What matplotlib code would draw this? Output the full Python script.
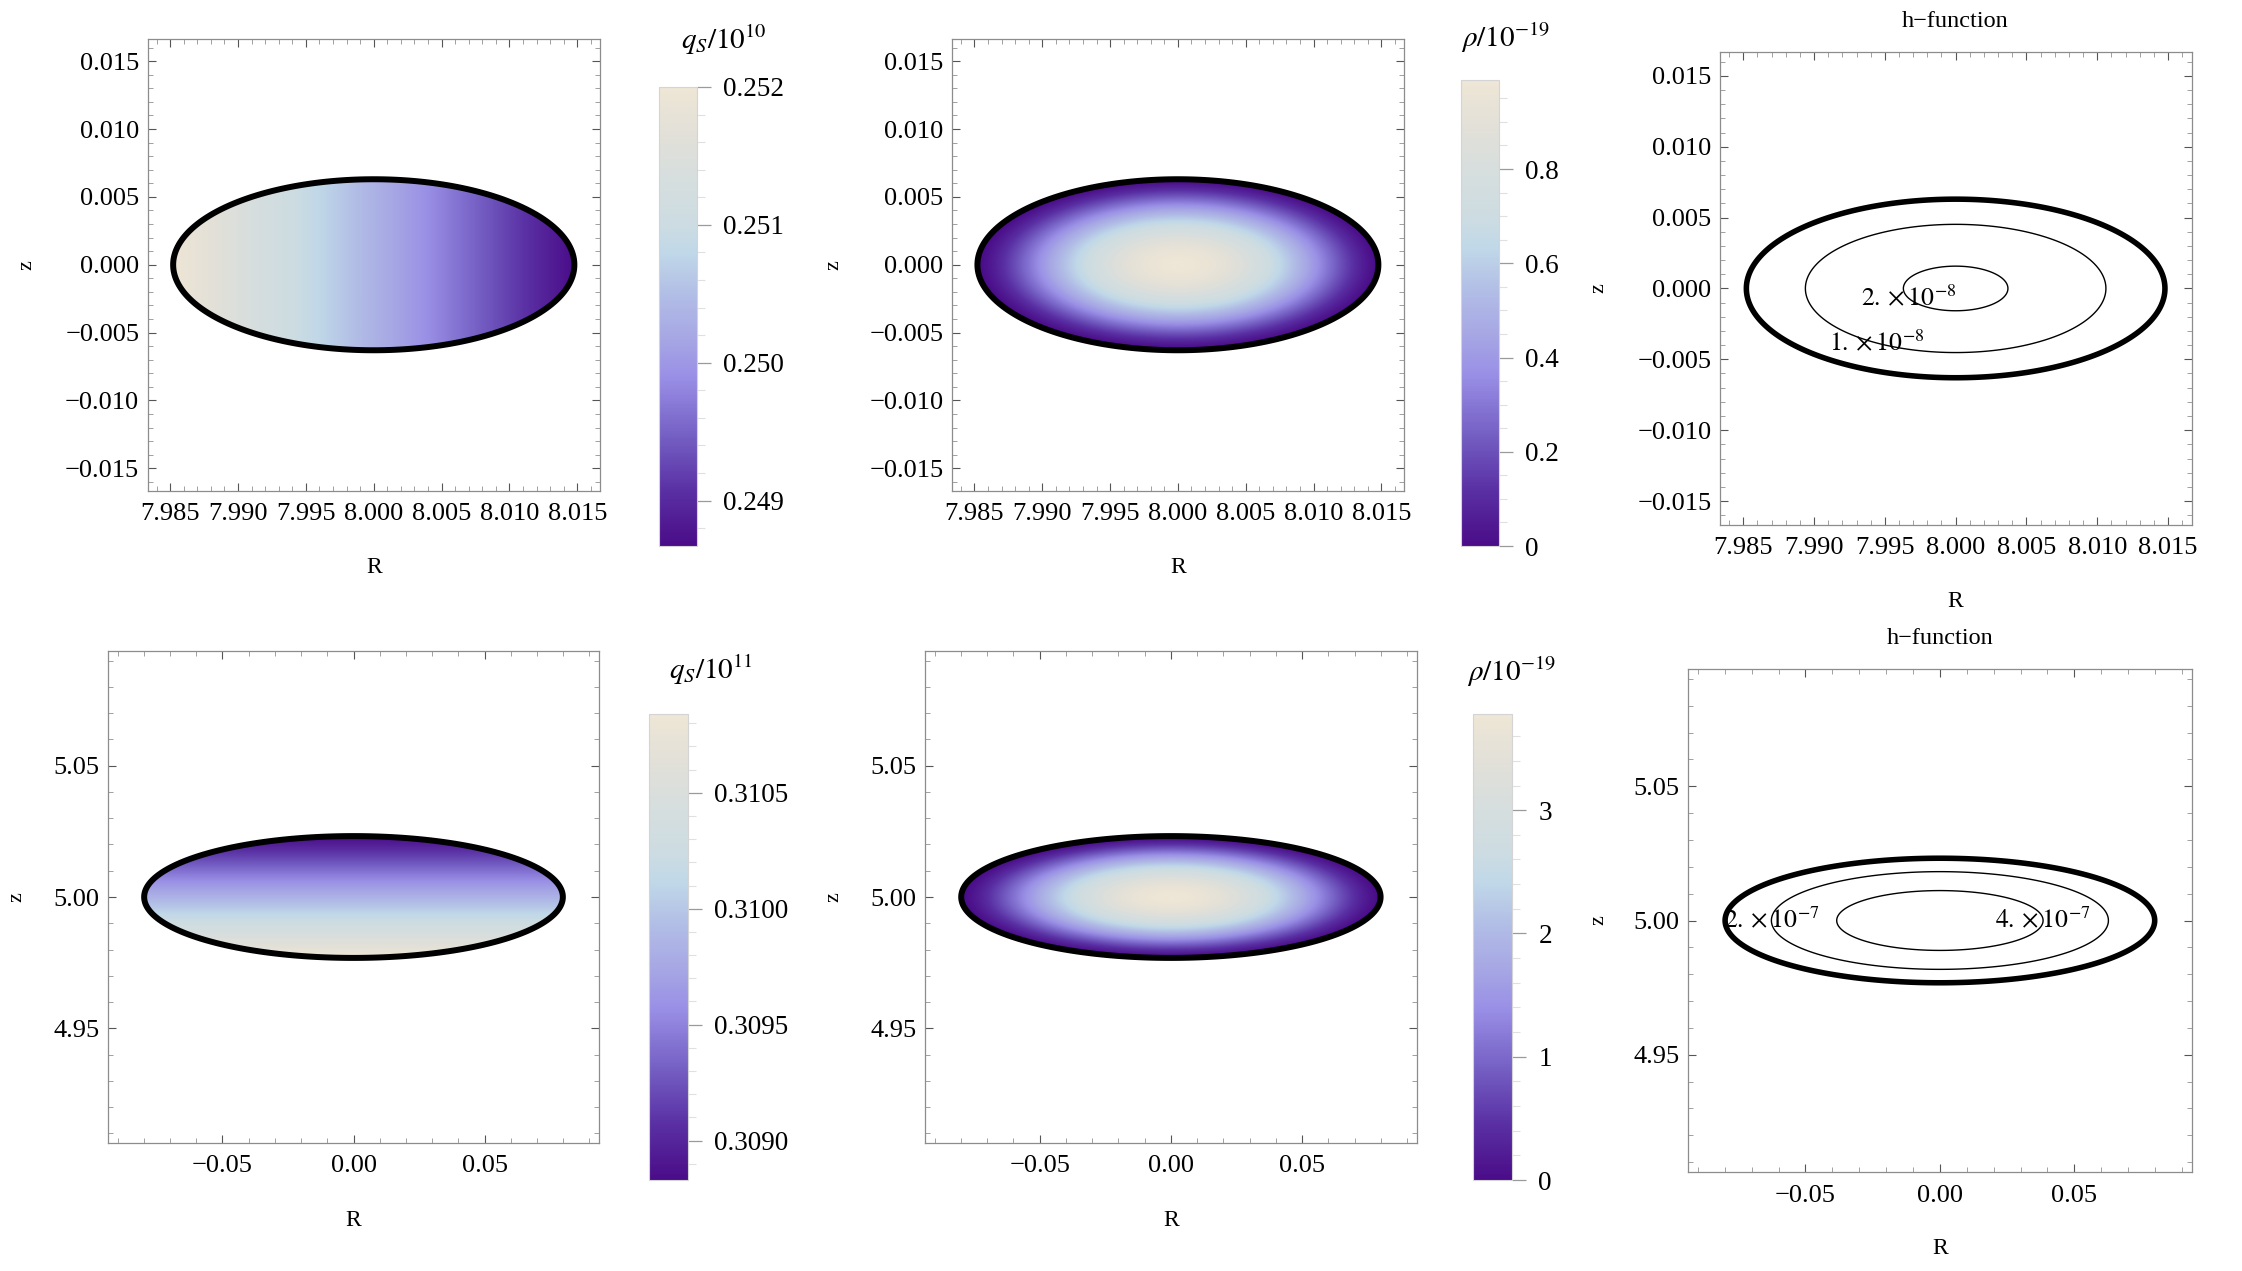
import numpy as np
import matplotlib
matplotlib.use("Agg")
import matplotlib.pyplot as plt
from matplotlib.colors import LinearSegmentedColormap
from matplotlib.ticker import MultipleLocator

plt.rcParams['font.family'] = ['Liberation Serif', 'DejaVu Serif']
plt.rcParams['mathtext.fontset'] = 'stix'

# ---------------- data ----------------
# geometry of the cross-sections
top_center = [8.0, 0.0]            # (R, z)
top_semi_axes = [0.01478, 0.0063]  # (a_R, a_z)
top_half_range = 0.01667
bot_center = [0.0, 5.0]
bot_semi_axes = [0.0799, 0.0232]
bot_half_range = 0.0937

# top row: q_s/1e10 at inner (small R) and outer (large R) edge, rho peak, h-function
qs_top_edges = [0.25200, 0.24867]
rho_top_peak = 0.989
rho_profile_power = 1.5
h_top_peak = 2.14e-8
h_top_power = 1.05
h_top_levels = [1e-8, 2e-8]
h_top_labels = [r'$1.\times10^{-8}$', r'$2.\times10^{-8}$']
h_top_label_pos = [(7.99445, -0.0039), (7.99664, -0.0008)]

# bottom row: q_s/1e11 at lower (small z) and upper edge, rho peak, h-function
qs_bot_edges = [0.31084, 0.30883]
rho_bot_peak = 3.78
h_bot_peak = 5.2e-7
h_bot_power = 1.0
h_bot_levels = [2e-7, 4e-7]
h_bot_labels = [r'$2.\times10^{-7}$', r'$4.\times10^{-7}$']
h_bot_label_pos = [(-0.0625, 5.0), (0.0385, 5.0)]

# tick values / labels
top_xticks = [7.985, 7.990, 7.995, 8.000, 8.005, 8.010, 8.015]
top_xticklabels = ['7.985', '7.990', '7.995', '8.000', '8.005', '8.010', '8.015']
top_yticks = [-0.015, -0.010, -0.005, 0.0, 0.005, 0.010, 0.015]
top_yticklabels = ['\u22120.015', '\u22120.010', '\u22120.005', '0.000', '0.005', '0.010', '0.015']
bot_xticks = [-0.05, 0.0, 0.05]
bot_xticklabels = ['\u22120.05', '0.00', '0.05']
bot_yticks = [4.95, 5.00, 5.05]
bot_yticklabels = ['4.95', '5.00', '5.05']

cb1_ticks = [0.249, 0.250, 0.251, 0.252]
cb1_labels = ['0.249', '0.250', '0.251', '0.252']
cb2_ticks = [0.0, 0.2, 0.4, 0.6, 0.8]
cb2_labels = ['0', '0.2', '0.4', '0.6', '0.8']
cb4_ticks = [0.3090, 0.3095, 0.3100, 0.3105]
cb4_labels = ['0.3090', '0.3095', '0.3100', '0.3105']
cb5_ticks = [0, 1, 2, 3]
cb5_labels = ['0', '1', '2', '3']

cb_titles = [r'$q_S/10^{10}$', r'$\rho/10^{-19}$', r'$q_S/10^{11}$', r'$\rho/10^{-19}$']

# colour scheme nodes (dark purple -> lavender -> light blue -> beige)
cmap_colors = ['#4a0c88', '#5a30a4', '#7058be', '#8676d4', '#9a90e6', '#a6a6e4',
               '#b2bee6', '#c0d8e8', '#ccdce2', '#d6dede', '#e2e0d8', '#eee6d6']
cmap_nodes = [0.0, 0.12, 0.22, 0.30, 0.37, 0.45, 0.55, 0.64, 0.70, 0.80, 0.90, 1.0]

# ---------------- figure ----------------
W, H = 2242, 1271
fig = plt.figure(figsize=(W / 100, H / 100), dpi=100)
cmap = LinearSegmentedColormap.from_list('mm', list(zip(cmap_nodes, cmap_colors)))


def rect(l, r, t, b):
    return [l / W, 1 - b / H, (r - l) / W, (b - t) / H]


FRAME = '#8c8c8c'


def style_axes(ax, xt, xl, yt, yl, minor, ylab_off, xlab_off=77):
    ax.set_xticks(xt, labels=xl)
    ax.set_yticks(yt, labels=yl)
    ax.xaxis.set_minor_locator(MultipleLocator(minor))
    ax.yaxis.set_minor_locator(MultipleLocator(minor))
    ax.tick_params(which='both', direction='in', top=True, right=True)
    ax.tick_params(which='major', length=6, width=0.8, color='#555555',
                   labelsize=19, pad=6)
    ax.tick_params(axis='x', which='major', pad=9)
    ax.tick_params(which='minor', length=3.5, width=0.7, color='#a0a0a0')
    for sp in ax.spines.values():
        sp.set_color(FRAME)
        sp.set_linewidth(0.9)
    ax.set_xlabel('R', fontsize=17)
    ax.set_ylabel('z', fontsize=16, rotation=90)
    bb = ax.get_position()
    ax.xaxis.set_label_coords(0.5, -xlab_off / (bb.height * H))
    ax.xaxis.label.set_va('center')
    ax.yaxis.set_label_coords(-ylab_off / (bb.width * W), 0.5)
    ax.yaxis.label.set_va('center')


def make_grid(center, half, n=700):
    x = np.linspace(center[0] - half, center[0] + half, n)
    y = np.linspace(center[1] - half, center[1] + half, n)
    return np.meshgrid(x, y)


def ell_s2(X, Y, center, semi):
    return ((X - center[0]) / semi[0]) ** 2 + ((Y - center[1]) / semi[1]) ** 2


def density(ax, X, Y, F, S2, center, half, vmin, vmax):
    Fm = np.ma.masked_where(S2 > 1.0, F)
    im = ax.imshow(Fm, origin='lower', cmap=cmap, vmin=vmin, vmax=vmax,
                   extent=[center[0] - half, center[0] + half,
                           center[1] - half, center[1] + half],
                   aspect='auto', interpolation='bilinear')
    ax.contour(X, Y, S2, levels=[1.0], colors='black', linewidths=4.3)
    ax.set_xlim(center[0] - half, center[0] + half)
    ax.set_ylim(center[1] - half, center[1] + half)
    return im


def add_cbar(r, im, ticks, labels, minor, title, title_xy):
    cax = fig.add_axes(r)
    cb = fig.colorbar(im, cax=cax)
    cb.set_ticks(ticks, labels=labels)
    cb.minorlocator = MultipleLocator(minor)
    cb.outline.set_edgecolor('#d4d4d4')
    cb.outline.set_linewidth(0.8)
    cax.tick_params(which='major', direction='out', length=10, width=0.9,
                    color='#9a9a9a', labelsize=19.5, pad=9)
    cax.tick_params(which='minor', direction='out', length=6, width=0.8,
                    color='#e0e0e0')
    fig.text(title_xy[0] / W, 1 - title_xy[1] / H, title, fontsize=21,
             ha='center', va='center')
    return cb


def hpanel(ax, X, Y, S2, peak, power, levels, labels, label_pos, center, half):
    h = peak * np.clip(1.0 - S2, 0, None) ** power
    ax.contour(X, Y, S2, levels=[1.0], colors='black', linewidths=4.0)
    cs = ax.contour(X, Y, h, levels=levels, colors='black', linewidths=1.0)
    texts = ax.clabel(cs, levels=levels, fmt=dict(zip(levels, labels)),
                      inline=False, manual=label_pos, fontsize=18.5)
    for t in texts:
        t.set_rotation(0)
    ax.set_xlim(center[0] - half, center[0] + half)
    ax.set_ylim(center[1] - half, center[1] + half)
    ax.set_title('h\u2212function', fontsize=17.5, pad=18)


# ---------- top row ----------
Xt, Yt = make_grid(top_center, top_half_range)
S2t = ell_s2(Xt, Yt, top_center, top_semi_axes)
r_in = top_center[0] - top_semi_axes[0]
qs_top = qs_top_edges[0] + (qs_top_edges[1] - qs_top_edges[0]) * (Xt - r_in) / (2 * top_semi_axes[0])
rho_top = rho_top_peak * np.clip(1.0 - S2t, 0, None) ** rho_profile_power

ax1 = fig.add_axes(rect(147.5, 600, 38.5, 491))
im1 = density(ax1, Xt, Yt, qs_top, S2t, top_center, top_half_range,
              min(qs_top_edges), max(qs_top_edges))
style_axes(ax1, top_xticks, top_xticklabels, top_yticks, top_yticklabels, 0.001, 121)
add_cbar(rect(659, 697, 87, 546), im1, cb1_ticks, cb1_labels, 0.0002, cb_titles[0], (724, 40))

ax2 = fig.add_axes(rect(951.8, 1404, 38.5, 491))
im2 = density(ax2, Xt, Yt, rho_top, S2t, top_center, top_half_range, 0.0, rho_top_peak)
style_axes(ax2, top_xticks, top_xticklabels, top_yticks, top_yticklabels, 0.001, 118)
add_cbar(rect(1461, 1499, 80, 546), im2, cb2_ticks, cb2_labels, 0.05, cb_titles[1], (1506, 38))

ax3 = fig.add_axes(rect(1719.6, 2191.7, 52.2, 524.7))
hpanel(ax3, Xt, Yt, S2t, h_top_peak, h_top_power, h_top_levels, h_top_labels,
       h_top_label_pos, top_center, top_half_range)
style_axes(ax3, top_xticks, top_xticklabels, top_yticks, top_yticklabels, 0.001, 121)

# ---------- bottom row ----------
Xb, Yb = make_grid(bot_center, bot_half_range)
S2b = ell_s2(Xb, Yb, bot_center, bot_semi_axes)
z_lo = bot_center[1] - bot_semi_axes[1]
qs_bot = qs_bot_edges[0] + (qs_bot_edges[1] - qs_bot_edges[0]) * (Yb - z_lo) / (2 * bot_semi_axes[1])
rho_bot = rho_bot_peak * np.clip(1.0 - S2b, 0, None) ** rho_profile_power

ax4 = fig.add_axes(rect(108, 599, 651, 1143))
im4 = density(ax4, Xb, Yb, qs_bot, S2b, bot_center, bot_half_range,
              min(qs_bot_edges), max(qs_bot_edges))
style_axes(ax4, bot_xticks, bot_xticklabels, bot_yticks, bot_yticklabels, 0.01, 91)
add_cbar(rect(649, 688, 714, 1180), im4, cb4_ticks, cb4_labels, 0.0001, cb_titles[2], (711, 670))

ax5 = fig.add_axes(rect(925, 1416.8, 651, 1143))
im5 = density(ax5, Xb, Yb, rho_bot, S2b, bot_center, bot_half_range, 0.0, rho_bot_peak)
style_axes(ax5, bot_xticks, bot_xticklabels, bot_yticks, bot_yticklabels, 0.01, 91)
add_cbar(rect(1473, 1512, 714, 1180), im5, cb5_ticks, cb5_labels, 0.2, cb_titles[3], (1512, 672))

ax6 = fig.add_axes(rect(1688, 2191.8, 669, 1172))
hpanel(ax6, Xb, Yb, S2b, h_bot_peak, h_bot_power, h_bot_levels, h_bot_labels,
       h_bot_label_pos, bot_center, bot_half_range)
style_axes(ax6, bot_xticks, bot_xticklabels, bot_yticks, bot_yticklabels, 0.01, 89)

fig.savefig('out.png', dpi=100)
